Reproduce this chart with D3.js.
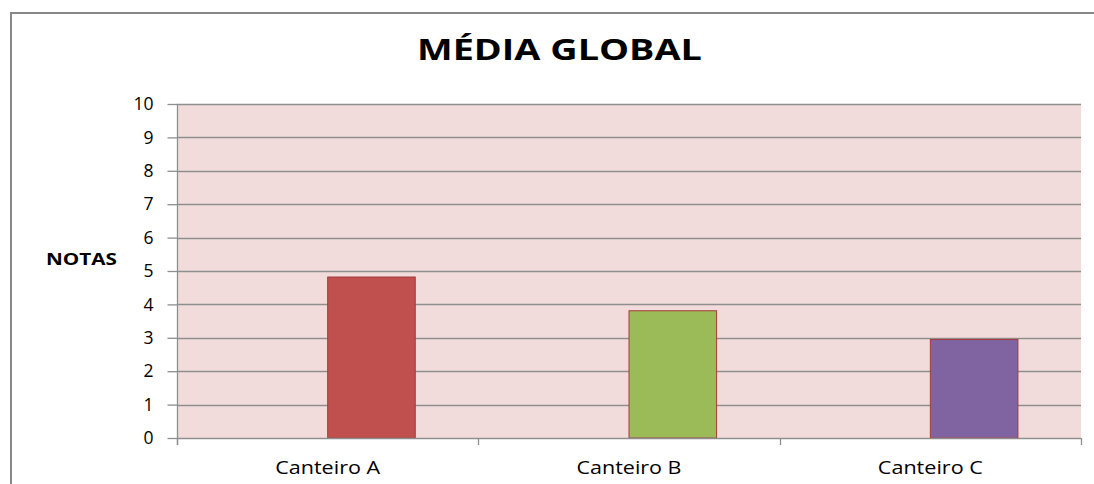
<!DOCTYPE html>
<html><head><meta charset="utf-8">
<script src="https://cdn.jsdelivr.net/npm/d3@7"></script>
<style>html,body{margin:0;padding:0;background:#fff;}svg{display:block;}</style>
</head><body>
<svg id="c" width="1094" height="484"></svg>
<script>
const categories = ["Canteiro A", "Canteiro B", "Canteiro C"];
const values = [4.82, 3.81, 2.95];
const barColors = ["#c0504d", "#9bbb59", "#8064a2"];
const yTicks = [0,1,2,3,4,5,6,7,8,9,10];
const title = "MÉDIA GLOBAL";
const yTitle = "NOTAS";

const svg = d3.select("#c");
const font = "'Open Sans', 'Liberation Sans', sans-serif";

// outer chart border
svg.append("path").attr("d","M11,490 V13 H1100").attr("fill","none").attr("stroke","#888").attr("stroke-width",2);

const m = {left:177, right:1081, top:104, bottom:438};
const x = d3.scaleBand().domain(categories).range([m.left, m.right]).paddingInner(0).paddingOuter(0);
const xi = d3.scaleBand().domain(["_", "v"]).range([0, x.bandwidth()]).paddingInner(0).paddingOuter(0.72);
const y = d3.scaleLinear().domain([0,10]).range([m.bottom, m.top]);

svg.append("rect").attr("x",m.left).attr("y",m.top).attr("width",m.right-m.left).attr("height",m.bottom-m.top).attr("fill","#f2dcdb");

// gridlines
svg.append("g").selectAll("line").data(yTicks.filter(d=>d>0)).join("line")
  .attr("x1",m.left).attr("x2",m.right).attr("y1",d=>Math.round(y(d))+0.5).attr("y2",d=>Math.round(y(d))+0.5)
  .attr("stroke","#8e8e8e").attr("stroke-width",1.3);

// y axis
const ya = svg.append("g").attr("transform",`translate(${m.left+0.5},0)`)
  .call(d3.axisLeft(y).tickValues(yTicks).tickSize(10).tickPadding(14).tickFormat(d3.format("d")));
ya.select(".domain").remove();
ya.selectAll(".tick line").attr("stroke","#8e8e8e").attr("stroke-width",1.3);
ya.selectAll(".tick text").attr("font-family",font).attr("font-size",17.5).attr("fill","#000");
svg.append("line").attr("x1",m.left+0.5).attr("x2",m.left+0.5).attr("y1",m.top).attr("y2",m.bottom+7).attr("stroke","#8e8e8e").attr("stroke-width",1.3);

// bars
svg.append("g").selectAll("rect").data(categories).join("rect")
  .attr("x",(d)=>x(d)+xi("v")).attr("width",xi.bandwidth())
  .attr("y",(d,i)=>y(values[i])).attr("height",(d,i)=>y(0)-y(values[i]))
  .attr("fill",(d,i)=>barColors[i]).attr("stroke","#a8393a").attr("stroke-width",1);

// x axis
svg.append("line").attr("x1",m.left).attr("x2",m.right).attr("y1",m.bottom+0.5).attr("y2",m.bottom+0.5).attr("stroke","#8e8e8e").attr("stroke-width",1.5);
const bounds = categories.map(c=>x(c)).concat([m.right]);
svg.append("g").selectAll("line").data(bounds).join("line")
  .attr("x1",d=>Math.round(d)+0.5).attr("x2",d=>Math.round(d)+0.5).attr("y1",m.bottom).attr("y2",m.bottom+7)
  .attr("stroke","#8e8e8e").attr("stroke-width",1.3);
svg.append("g").selectAll("text").data(categories).join("text")
  .attr("x",d=>x(d)+x.bandwidth()/2).attr("y",474).attr("text-anchor","middle")
  .attr("font-family",font).attr("font-size",18).attr("fill","#000")
  .attr("textLength",105).attr("lengthAdjust","spacingAndGlyphs").text(d=>d);

// titles
svg.append("text").attr("x",559.5).attr("y",60).attr("text-anchor","middle")
  .attr("font-family",font).attr("font-weight","bold").attr("font-size",28.5).attr("fill","#000")
  .attr("textLength",285).attr("lengthAdjust","spacingAndGlyphs").text(title);
svg.append("text").attr("x",46).attr("y",265)
  .attr("font-family",font).attr("font-weight","bold").attr("font-size",15.5).attr("fill","#000")
  .attr("textLength",71).attr("lengthAdjust","spacingAndGlyphs").text(yTitle);
</script>
</body></html>
